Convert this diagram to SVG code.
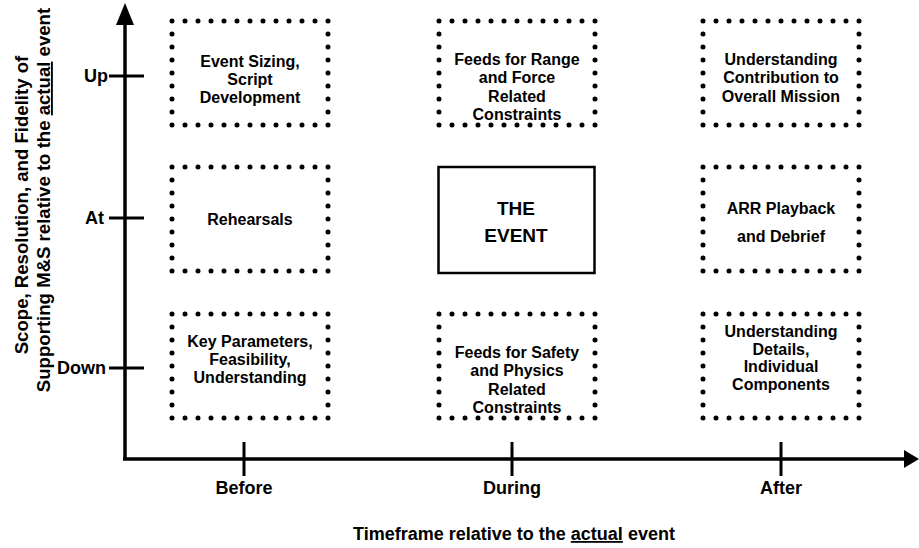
<svg xmlns="http://www.w3.org/2000/svg" width="919" height="548" viewBox="0 0 919 548">
<style>
  text { font-family: "Liberation Sans", Arial, sans-serif; fill: #000; }
  .box { font-size: 16px; font-weight: bold; text-anchor: middle; }
  .lab { font-size: 18px; font-weight: bold; }
  .ytl { font-size: 18.6px; font-weight: bold; text-anchor: middle; }
  .dot { fill: none; stroke: #000; stroke-width: 5; stroke-linecap: round; stroke-dasharray: 0 1; }
  .axis { stroke: #000; stroke-width: 3.5; fill: none; }
  .tick { stroke: #000; stroke-width: 3; }
</style>
<rect width="919" height="548" fill="#fff"/>
<g id="connectors">
  <line class="axis" x1="125" y1="460" x2="125" y2="20"/>
  <polygon points="125,3 116,25 134,25" fill="#000"/>
  <line class="axis" x1="123" y1="459" x2="906" y2="459"/>
  <polygon points="919,459 904,450 904,468" fill="#000"/>
  <line class="tick" x1="109" y1="76" x2="144" y2="76"/>
  <line class="tick" x1="109" y1="218" x2="144" y2="218"/>
  <line class="tick" x1="109" y1="368" x2="144" y2="368"/>
  <line class="tick" x1="244" y1="442" x2="244" y2="476"/>
  <line class="tick" x1="512" y1="442" x2="512" y2="476"/>
  <line class="tick" x1="781" y1="442" x2="781" y2="476"/>
</g>
<g id="axis-labels">
  <text class="lab" x="108" y="82" text-anchor="end">Up</text>
  <text class="lab" x="104" y="224" text-anchor="end">At</text>
  <text class="lab" x="106" y="374" text-anchor="end">Down</text>
  <text class="lab" x="244" y="494" text-anchor="middle">Before</text>
  <text class="lab" x="512" y="494" text-anchor="middle">During</text>
  <text class="lab" x="781" y="494" text-anchor="middle">After</text>
  <text class="lab" x="514" y="540" text-anchor="middle">Timeframe relative to the <tspan text-decoration="underline">actual</tspan> event</text>
  <text class="ytl" transform="translate(28,205) rotate(-90)">Scope, Resolution, and Fidelity of</text>
  <text class="ytl" transform="translate(50,200) rotate(-90)">Supporting M&amp;S relative to the <tspan text-decoration="underline">actual</tspan> event</text>
</g>
<g id="before-up">
  <rect class="dot" x="172" y="21" width="156" height="104" pathLength="40"/>
  <text class="box"><tspan x="250" y="67">Event Sizing,</tspan><tspan x="250" y="85">Script</tspan><tspan x="250" y="103">Development</tspan></text>
</g>
<g id="during-up">
  <rect class="dot" x="439" y="21" width="156" height="104" pathLength="40"/>
  <text class="box"><tspan x="517" y="65">Feeds for Range</tspan><tspan x="517" y="83">and Force</tspan><tspan x="517" y="102">Related</tspan><tspan x="517" y="120">Constraints</tspan></text>
</g>
<g id="after-up">
  <rect class="dot" x="703" y="21" width="156" height="104" pathLength="40"/>
  <text class="box"><tspan x="781" y="65">Understanding</tspan><tspan x="781" y="83">Contribution to</tspan><tspan x="781" y="102">Overall Mission</tspan></text>
</g>
<g id="before-at">
  <rect class="dot" x="172" y="167" width="156" height="104" pathLength="40"/>
  <text class="box" x="250" y="225">Rehearsals</text>
</g>
<g id="the-event">
  <rect x="438.5" y="167" width="156" height="106" fill="none" stroke="#000" stroke-width="2.5"/>
  <text font-size="19" font-weight="bold" text-anchor="middle"><tspan x="516" y="215">THE</tspan><tspan x="516" y="242">EVENT</tspan></text>
</g>
<g id="after-at">
  <rect class="dot" x="703" y="167" width="156" height="104" pathLength="40"/>
  <text class="box"><tspan x="781" y="214">ARR Playback</tspan><tspan x="781" y="242">and Debrief</tspan></text>
</g>
<g id="before-down">
  <rect class="dot" x="172" y="314" width="156" height="104" pathLength="40"/>
  <text class="box"><tspan x="250" y="347">Key Parameters,</tspan><tspan x="250" y="365">Feasibility,</tspan><tspan x="250" y="383">Understanding</tspan></text>
</g>
<g id="during-down">
  <rect class="dot" x="439" y="314" width="156" height="104" pathLength="40"/>
  <text class="box"><tspan x="517" y="358">Feeds for Safety</tspan><tspan x="517" y="376">and Physics</tspan><tspan x="517" y="395">Related</tspan><tspan x="517" y="413">Constraints</tspan></text>
</g>
<g id="after-down">
  <rect class="dot" x="703" y="314" width="156" height="104" pathLength="40"/>
  <text class="box"><tspan x="781" y="337">Understanding</tspan><tspan x="781" y="355">Details,</tspan><tspan x="781" y="372">Individual</tspan><tspan x="781" y="390">Components</tspan></text>
</g>
</svg>
